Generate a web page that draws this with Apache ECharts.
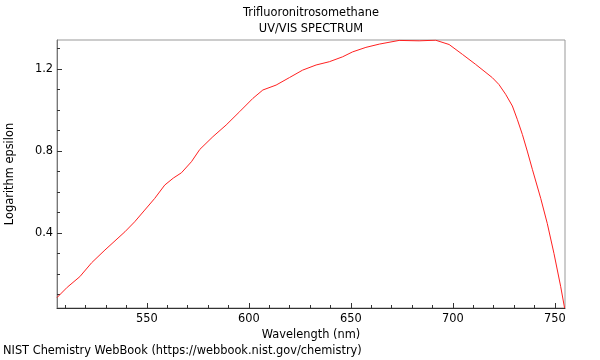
<!DOCTYPE html>
<html>
<head>
<meta charset="utf-8">
<script src="https://cdn.jsdelivr.net/npm/echarts@6/dist/echarts.min.js"></script>
<style>
html,body{margin:0;padding:0;background:#fff;}
#chart{width:600px;height:360px;}
</style>
</head>
<body>
<div id="chart"></div>
<script>
const wavelength = [506.0, 511.0, 517.2, 523.0, 529.5, 539.3, 544.1, 549.0, 553.9, 558.8, 563.0, 567.0, 571.9, 576.0, 582.4, 588.9, 595.5, 602.0, 606.9, 613.4, 620.0, 626.4, 633.0, 639.5, 646.0, 650.9, 657.4, 664.0, 673.7, 683.5, 691.6, 698.2, 704.7, 711.2, 719.4, 722.6, 725.9, 729.2, 731.6, 734.1, 736.5, 739.0, 743.1, 746.3, 749.6, 752.9, 754.8];
const logEpsilon = [0.085, 0.135, 0.187, 0.255, 0.317, 0.406, 0.455, 0.512, 0.569, 0.634, 0.668, 0.694, 0.748, 0.808, 0.870, 0.927, 0.992, 1.057, 1.098, 1.122, 1.159, 1.195, 1.220, 1.236, 1.260, 1.284, 1.306, 1.322, 1.340, 1.338, 1.341, 1.320, 1.272, 1.223, 1.158, 1.125, 1.077, 1.020, 0.955, 0.881, 0.800, 0.711, 0.569, 0.447, 0.300, 0.138, 0.034];
const xMajorTicks = [550, 600, 650, 700, 750];
const xMinorTicks = [510, 520, 530, 540, 560, 570, 580, 590, 610, 620, 630, 640, 660, 670, 680, 690, 710, 720, 730, 740];
const yMajorTicks = [0.4, 0.8, 1.2];
const yMinorTicks = [0.1, 0.2, 0.3, 0.5, 0.6, 0.7, 0.9, 1.0, 1.1, 1.3];

const xMin = 506, xMax = 755, yMin = 0.034, yMax = 1.342;
const font = 'DejaVu Sans';
const fs = 11.4;

const chart = echarts.init(document.getElementById('chart'));
chart.setOption({
  animation: false,
  backgroundColor: '#fff',
  title: [{
    text: 'Trifluoronitrosomethane\nUV/VIS SPECTRUM',
    left: 311, top: 5, padding: 0, textAlign: 'center',
    textStyle: {fontFamily: font, fontSize: fs, fontWeight: 'normal', color: '#000', lineHeight: 16}
  }, {
    text: 'NIST Chemistry WebBook (https://webbook.nist.gov/chemistry)',
    left: 3, top: 346, padding: 0,
    textStyle: {fontFamily: font, fontSize: fs, fontWeight: 'normal', color: '#000'}
  }],
  grid: {left: 57, right: 35, top: 40, bottom: 52, outerBoundsMode: 'none', containLabel: false, show: true, borderColor: '#999', borderWidth: 1, backgroundColor: 'transparent'},
  xAxis: [{
    type: 'value', min: xMin, max: xMax, position: 'bottom',
    name: 'Wavelength (nm)', nameLocation: 'middle', nameGap: 17,
    nameTextStyle: {fontFamily: font, fontSize: fs, color: '#000'},
    splitLine: {show: false},
    axisLine: {show: true, lineStyle: {color: '#333', width: 1}},
    axisTick: {show: true, inside: true, length: 5, customValues: xMajorTicks, lineStyle: {color: '#333'}},
    axisLabel: {customValues: xMajorTicks, fontFamily: font, fontSize: fs, color: '#000', margin: 6}
  }, {
    type: 'value', min: xMin, max: xMax, position: 'bottom',
    splitLine: {show: false},
    axisLine: {show: false},
    axisTick: {show: true, inside: true, length: 3, customValues: xMinorTicks, lineStyle: {color: '#333'}},
    axisLabel: {show: false, customValues: xMinorTicks}
  }],
  yAxis: [{
    type: 'value', min: yMin, max: yMax, position: 'left',
    name: 'Logarithm epsilon', nameLocation: 'middle', nameGap: 41, nameRotate: 90,
    nameTextStyle: {fontFamily: font, fontSize: fs, color: '#000'},
    splitLine: {show: false},
    axisLine: {show: true, lineStyle: {color: '#777', width: 1}},
    axisTick: {show: true, inside: true, length: 5, customValues: yMajorTicks, lineStyle: {color: '#333'}},
    axisLabel: {customValues: yMajorTicks, fontFamily: font, fontSize: fs, color: '#000', margin: 4, formatter: v => v.toFixed(1)}
  }, {
    type: 'value', min: yMin, max: yMax, position: 'left',
    splitLine: {show: false},
    axisLine: {show: false},
    axisTick: {show: true, inside: true, length: 3, customValues: yMinorTicks, lineStyle: {color: '#333'}},
    axisLabel: {show: false, customValues: yMinorTicks}
  }],
  series: [{
    type: 'line',
    xAxisIndex: 0, yAxisIndex: 0,
    data: wavelength.map((w, i) => [w, logEpsilon[i]]),
    showSymbol: false,
    smooth: false,
    lineStyle: {color: '#ff2020', width: 1},
    clip: true
  }]
});
</script>
</body>
</html>
